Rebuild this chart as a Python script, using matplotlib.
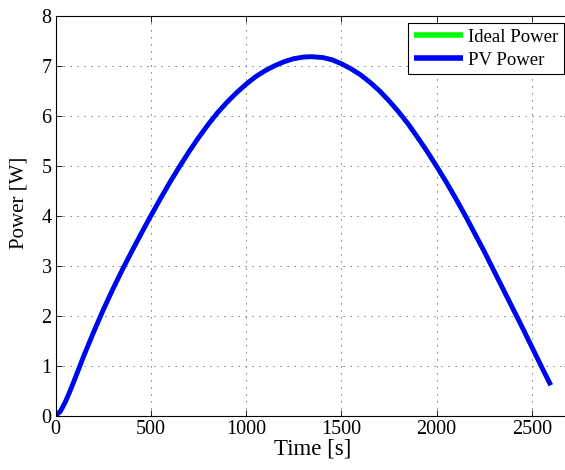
import matplotlib
matplotlib.use("Agg")
import matplotlib.pyplot as plt

# Data
time_s = [0, 25, 50, 75, 100, 150, 200, 250, 300, 350, 400, 450, 500, 550, 600, 650,
          700, 750, 800, 850, 900, 950, 1000, 1050, 1100, 1150, 1200, 1250, 1300, 1340,
          1400, 1450, 1500, 1550, 1600, 1650, 1700, 1750, 1800, 1850, 1900, 1950, 2000,
          2050, 2100, 2150, 2200, 2250, 2300, 2350, 2400, 2450, 2500, 2550, 2600]
pv_power = [0, 0.09, 0.27, 0.49, 0.73, 1.22, 1.68, 2.12, 2.53, 2.92, 3.29, 3.65, 4.00,
            4.34, 4.67, 4.98, 5.28, 5.56, 5.82, 6.06, 6.27, 6.46, 6.63, 6.78, 6.90, 7.00,
            7.08, 7.14, 7.172, 7.18, 7.165, 7.12, 7.04, 6.94, 6.82, 6.67, 6.50, 6.30, 6.08,
            5.84, 5.57, 5.29, 4.99, 4.68, 4.35, 4.01, 3.65, 3.29, 2.91, 2.53, 2.15, 1.77,
            1.38, 0.99, 0.61]
ideal_power = list(pv_power)

x_ticks = [0, 500, 1000, 1500, 2000, 2500]
y_ticks = [0, 1, 2, 3, 4, 5, 6, 7, 8]

plt.rcParams['font.family'] = ['Liberation Serif', 'DejaVu Serif']

fig = plt.figure(figsize=(5.65, 4.70), dpi=100)
W, H = 565.0, 470.0
left_px, right_px, bottom_px, top_px = 55.7, 569.8, 415.7, 15.7
ax = fig.add_axes([left_px / W, 1 - bottom_px / H,
                   (right_px - left_px) / W, (bottom_px - top_px) / H])

ax.plot(time_s, ideal_power, color=(0, 1, 0), linewidth=3.4, label='Ideal Power',
        solid_capstyle='butt', solid_joinstyle='round')
ax.plot(time_s, pv_power, color=(0, 0, 1), linewidth=3.4, label='PV Power',
        solid_capstyle='butt', solid_joinstyle='round')

ax.set_xlim(0, 2700)
ax.set_ylim(0, 8)
ax.set_xticks(x_ticks)
ax.set_yticks(y_ticks)
ax.tick_params(direction='in', top=True, right=True, length=4, width=0.6,
               labelsize=14.5, pad=3)
ax.grid(True, linestyle=(0, (1.2, 6)), color='#555555', linewidth=0.7)
for s in ax.spines.values():
    s.set_linewidth(0.8)

ax.set_xlabel('Time [s]', fontsize=16.5, labelpad=0)
ax.set_ylabel('Power [W]', fontsize=15)
ax.yaxis.set_label_coords((29 - left_px) / (right_px - left_px),
                          (bottom_px - 203) / (bottom_px - top_px))

leg = ax.legend(loc='upper right', bbox_to_anchor=(564.3 / W, 1 - 23.3 / H),
                bbox_transform=fig.transFigure, borderaxespad=0,
                fancybox=False, edgecolor='black', framealpha=1,
                fontsize=13.5, handlelength=2.6, handletextpad=0.3,
                labelspacing=0.3, borderpad=0.3)
leg.get_frame().set_linewidth(0.8)
for l in leg.get_lines():
    l.set_linewidth(4)

fig.savefig('out.png', dpi=100)
